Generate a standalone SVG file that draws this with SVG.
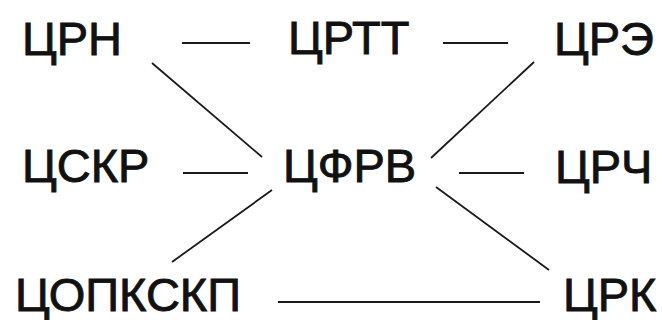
<svg xmlns="http://www.w3.org/2000/svg" width="662" height="320" viewBox="0 0 662 320">
<style>
.t{font-family:"Liberation Sans",Arial,sans-serif;font-size:47px;fill:#111;stroke:#111;stroke-width:0.9;}
.c line{stroke:#1a1a1a;stroke-width:1.8;}
.c line.d{stroke-width:2.2;}
</style>
<rect width="662" height="320" fill="#fff"/>
<g id="n-crn"><text class="t" x="22" y="55">ЦРН</text></g>
<g id="n-crtt"><text class="t" x="288" y="54">ЦРТТ</text></g>
<g id="n-cre"><text class="t" x="554" y="55">ЦРЭ</text></g>
<g id="n-cskr"><text class="t" x="22" y="182">ЦСКР</text></g>
<g id="n-cfrv"><text class="t" x="283" y="182">ЦФРВ</text></g>
<g id="n-crch"><text class="t" x="555" y="183">ЦРЧ</text></g>
<g id="n-copkskp"><text class="t" x="15" y="311">ЦОПКСКП</text></g>
<g id="n-crk"><text class="t" x="563" y="311">ЦРК</text></g>
<g class="c" id="connectors">
<line class="d" x1="182" y1="43" x2="250" y2="43"/>
<line class="d" x1="443" y1="43" x2="508" y2="43"/>
<line class="d" x1="183" y1="173" x2="248" y2="173"/>
<line class="d" x1="459" y1="173" x2="524" y2="173"/>
<line class="d" x1="278" y1="302" x2="540" y2="302"/>
<line x1="152" y1="63" x2="262" y2="157"/>
<line x1="534" y1="62" x2="431" y2="158"/>
<line x1="272" y1="190" x2="172" y2="262"/>
<line x1="436" y1="187" x2="549" y2="270"/>
</g>
</svg>
